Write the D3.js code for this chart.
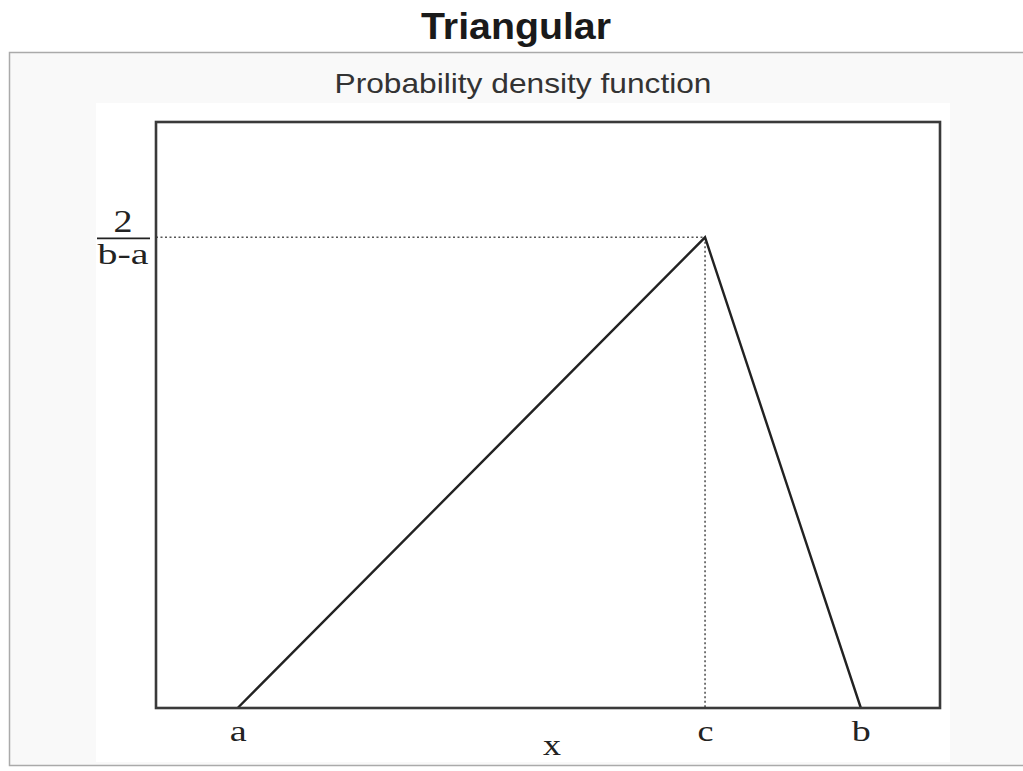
<!DOCTYPE html>
<html>
<head>
<meta charset="utf-8">
<script src="https://cdn.jsdelivr.net/npm/d3@7/dist/d3.min.js"></script>
<style>
  html, body { margin: 0; padding: 0; background: #fff; }
  svg { display: block; }
</style>
</head>
<body>
<svg id="chart" width="1023" height="771"></svg>
<script>
// ---- data ----
const pointLabels = ["a", "c", "b"];
const pointX = [0, 0.75, 1];          // a, c, b positions (a=0, b=1)
const pointDensity = [0, 2, 0];       // pdf values at a, c, b  (peak = 2/(b-a))
const yTickValue = [2];
const yTickNumerator = "2";
const yTickDenominator = "b-a";
const xDomain = [-0.131, 1.127];
const yDomain = [0, 2.49];
const titleText = "Triangular";
const subtitleText = "Probability density function";
const xAxisTitle = "x";

const svg = d3.select("#chart");

// page background / infobox
svg.append("rect").attr("x", 0).attr("y", 0).attr("width", 1023).attr("height", 771).attr("fill", "#fff");
svg.append("rect").attr("x", 9.5).attr("y", 52.5).attr("width", 1030).attr("height", 713)
  .attr("fill", "#f9f9f9").attr("stroke", "#aaa").attr("stroke-width", 1.5);
svg.append("rect").attr("x", 96).attr("y", 103).attr("width", 854).attr("height", 659).attr("fill", "#fff");

// titles
svg.append("text").attr("x", 516).attr("y", 39).attr("text-anchor", "middle")
  .attr("font-family", "Liberation Sans, Arial, sans-serif").attr("font-weight", "bold")
  .attr("font-size", 37).attr("textLength", 190).attr("lengthAdjust", "spacingAndGlyphs")
  .attr("fill", "#1a1a1a").text(titleText);
svg.append("text").attr("x", 523).attr("y", 93).attr("text-anchor", "middle")
  .attr("font-family", "Liberation Sans, Arial, sans-serif")
  .attr("font-size", 28).attr("textLength", 377).attr("lengthAdjust", "spacingAndGlyphs")
  .attr("fill", "#333").text(subtitleText);

// scales
const x = d3.scaleLinear().domain(xDomain).range([156, 940]);
const y = d3.scaleLinear().domain(yDomain).range([708, 122]);

const serif = "Liberation Serif, Times New Roman, serif";

// dotted guide lines
const peakIdx = pointDensity.indexOf(d3.max(pointDensity));
const g = svg.append("g");
g.append("line").attr("x1", x(xDomain[0])).attr("x2", x(pointX[peakIdx]))
  .attr("y1", y(pointDensity[peakIdx])).attr("y2", y(pointDensity[peakIdx]))
  .attr("stroke", "#555").attr("stroke-width", 1.6).attr("stroke-dasharray", "2,2.5");
g.append("line").attr("x1", x(pointX[peakIdx])).attr("x2", x(pointX[peakIdx]))
  .attr("y1", y(pointDensity[peakIdx])).attr("y2", y(0))
  .attr("stroke", "#555").attr("stroke-width", 1.6).attr("stroke-dasharray", "2,2.5");

// triangle
const pts = pointX.map((v, i) => [v, pointDensity[i]]);
g.append("path").datum(pts)
  .attr("d", d3.line().x(d => x(d[0])).y(d => y(d[1])))
  .attr("fill", "none").attr("stroke", "#222").attr("stroke-width", 2.4);

// x axis labels
const xAxis = d3.axisBottom(x).tickValues(pointX).tickFormat((d, i) => pointLabels[i]).tickSize(0);
const xg = svg.append("g").attr("transform", `translate(0,${y(0)})`).call(xAxis);
xg.select(".domain").remove();
xg.selectAll("text").attr("font-family", serif).attr("font-size", 30).attr("fill", "#222")
  .attr("y", 33).attr("dy", 0)
  .attr("textLength", (d, i) => [17, 16, 19][i]).attr("lengthAdjust", "spacingAndGlyphs");

svg.append("text").attr("x", 552).attr("y", 755).attr("text-anchor", "middle")
  .attr("font-family", serif).attr("font-size", 30).attr("textLength", 18)
  .attr("lengthAdjust", "spacingAndGlyphs").attr("fill", "#222").text(xAxisTitle);

// y tick label as fraction
const yAxis = d3.axisLeft(y).tickValues(yTickValue).tickFormat("").tickSize(0);
const yg = svg.append("g").attr("transform", `translate(${x(xDomain[0])},0)`).call(yAxis);
yg.select(".domain").remove();
yTickValue.forEach(v => {
  const yy = y(v);
  svg.append("text").attr("x", 123).attr("y", yy - 5).attr("text-anchor", "middle")
    .attr("font-family", serif).attr("font-size", 32).attr("textLength", 19)
    .attr("lengthAdjust", "spacingAndGlyphs").attr("fill", "#222").text(yTickNumerator);
  svg.append("line").attr("x1", 97).attr("x2", 150).attr("y1", yy + 1).attr("y2", yy + 1)
    .attr("stroke", "#222").attr("stroke-width", 1.8);
  svg.append("text").attr("x", 123).attr("y", yy + 27).attr("text-anchor", "middle")
    .attr("font-family", serif).attr("font-size", 29).attr("textLength", 51)
    .attr("lengthAdjust", "spacingAndGlyphs").attr("fill", "#222").text(yTickDenominator);
});

// plot frame
svg.append("rect").attr("x", x(xDomain[0])).attr("y", y(yDomain[1]))
  .attr("width", x(xDomain[1]) - x(xDomain[0])).attr("height", y(0) - y(yDomain[1]))
  .attr("fill", "none").attr("stroke", "#3a3a3a").attr("stroke-width", 2.6);
</script>
</body>
</html>
